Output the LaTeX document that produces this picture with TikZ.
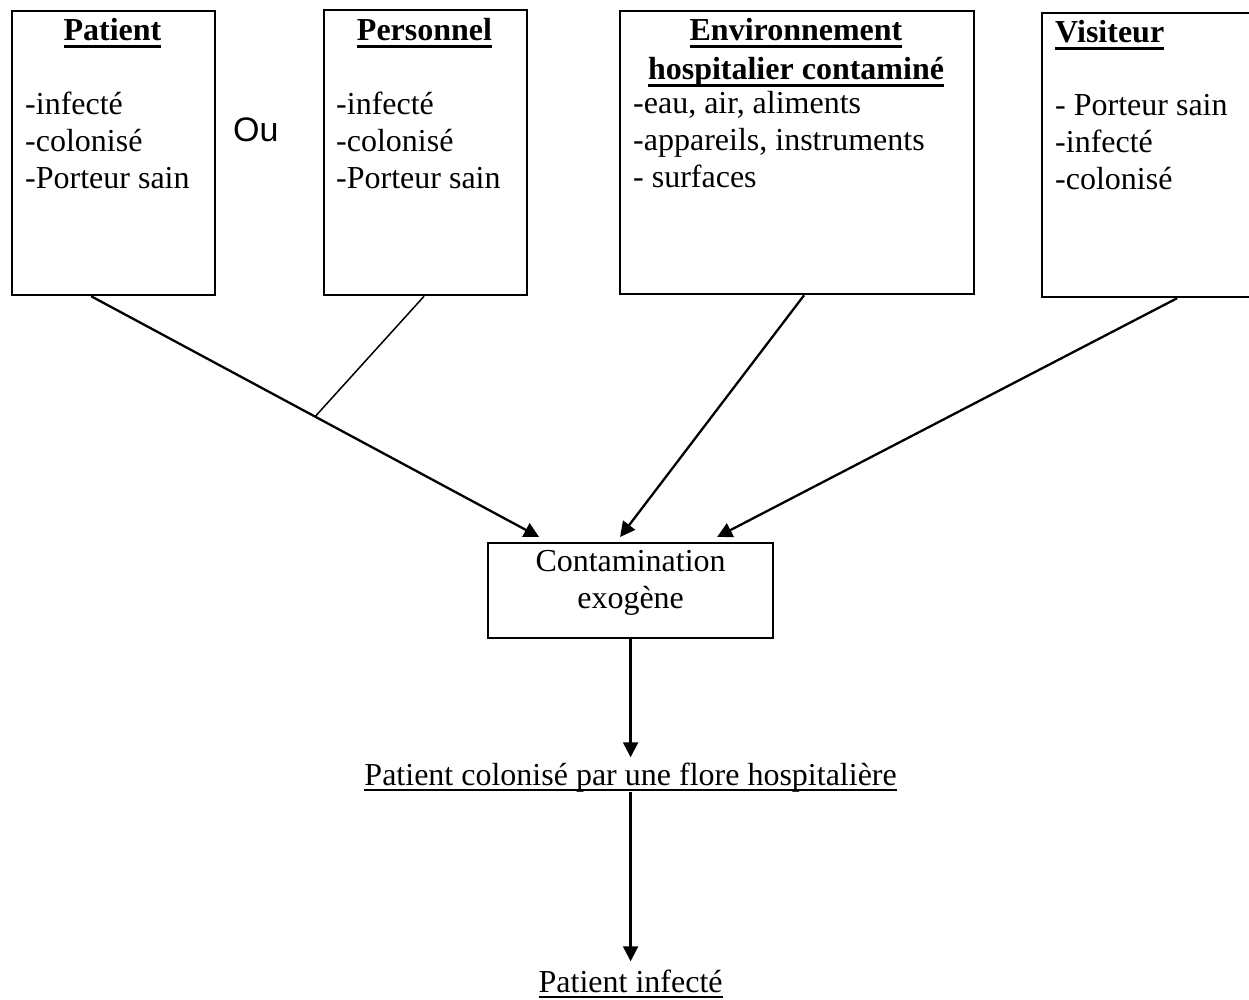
\documentclass[tikz,border=0pt]{standalone}
\usepackage{fontspec}
\setmainfont{Liberation Serif}
\newfontfamily\sansou{Liberation Sans}
\usetikzlibrary{arrows.meta}

\newsavebox\ulbox
% bold heading underline
\newcommand\ulb[1]{\sbox\ulbox{#1}\leavevmode\rlap{\rule[-7.5pt]{\wd\ulbox}{3pt}}\usebox\ulbox}
% regular text underline
\newcommand\ulr[1]{\sbox\ulbox{#1}\leavevmode\rlap{\rule[-6pt]{\wd\ulbox}{2pt}}\usebox\ulbox}
\newcommand\stackl[1]{\begin{tabular}[t]{@{}l@{}}#1\end{tabular}}
\newcommand\stackc[1]{\begin{tabular}[t]{@{}c@{}}#1\end{tabular}}
\newcommand\bodyfont{\fontsize{32}{37}\selectfont}

\begin{document}
\begin{tikzpicture}[x=1pt,y=-1pt,
  every node/.style={inner sep=0pt, font=\bodyfont},
  box/.style={draw, line width=2.2pt, rectangle, anchor=north west},
  arr/.style={line width=2.3pt, -{Triangle[length=15pt,width=15pt]}},
  link/.style={line width=1.5pt}]
\useasboundingbox (0,0) rectangle (1249,999);
\clip (0,0) rectangle (1249,999);

% source boxes
\node[box, minimum width=203pt, minimum height=284pt] (pat) at (11,10) {};
\node[box, minimum width=203pt, minimum height=285pt] (per) at (323,9) {};
\node[box, minimum width=354pt, minimum height=283pt] (env) at (619,10) {};
\node[box, minimum width=229pt, minimum height=284pt] (vis) at (1041,12) {};

% box contents
\node[anchor=base] (patT) at (112.5,40) {\bfseries\ulb{Patient}};
\node[anchor=base west] (patB) at (25,114) {\stackl{-infecté\\-colonisé\\-Porteur sain}};
\node[anchor=base west] (ou) at (233,141) {\sansou\fontsize{34}{37}\selectfont Ou};
\node[anchor=base] (perT) at (424.5,40) {\bfseries\ulb{Personnel}};
\node[anchor=base west] (perB) at (336,114) {\stackl{-infecté\\-colonisé\\-Porteur sain}};
\node[anchor=base] (envT) at (796,40) {\bfseries\stackc{\ulb{Environnement}\\[2pt]\ulb{hospitalier contaminé}}};
\node[anchor=base west] (envB) at (633,113) {\stackl{-eau, air, aliments\\-appareils, instruments\\- surfaces}};
\node[anchor=base west] (visT) at (1055,42) {\bfseries\ulb{Visiteur}};
\node[anchor=base west] (visB) at (1055,115) {\stackl{- Porteur sain\\-infecté\\-colonisé}};

% central box
\node[box, minimum width=285pt, minimum height=95pt] (cont) at (487,542) {};
\node[anchor=base] (contT) at (cont.north |- 0,571) {\stackc{Contamination\\exogène}};

% outcomes
\node[anchor=base] (col) at (cont.south |- 0,785) {\ulr{Patient colonisé par une flore hospitalière}};
\node[anchor=base] (inf) at (cont.south |- 0,992) {\ulr{Patient infecté}};

% connectors
\draw[arr] ([xshift=-22.5pt]pat.south) -- coordinate[pos=0.5] (join) ([xshift=-91.5pt,yshift=5pt]cont.north);
\draw[link] ([xshift=-1.5pt]per.south) -- (join);
\draw[arr] ([xshift=7pt]env.south) -- ([xshift=-10.5pt,yshift=5pt]cont.north);
\draw[arr] ([xshift=20.5pt]vis.south) -- ([xshift=86.5pt,yshift=5pt]cont.north);
\draw[arr] (cont.south) -- ([yshift=5pt]col.north);
\draw[arr] (col.south) -- ([yshift=8pt]inf.north);
\end{tikzpicture}
\end{document}
